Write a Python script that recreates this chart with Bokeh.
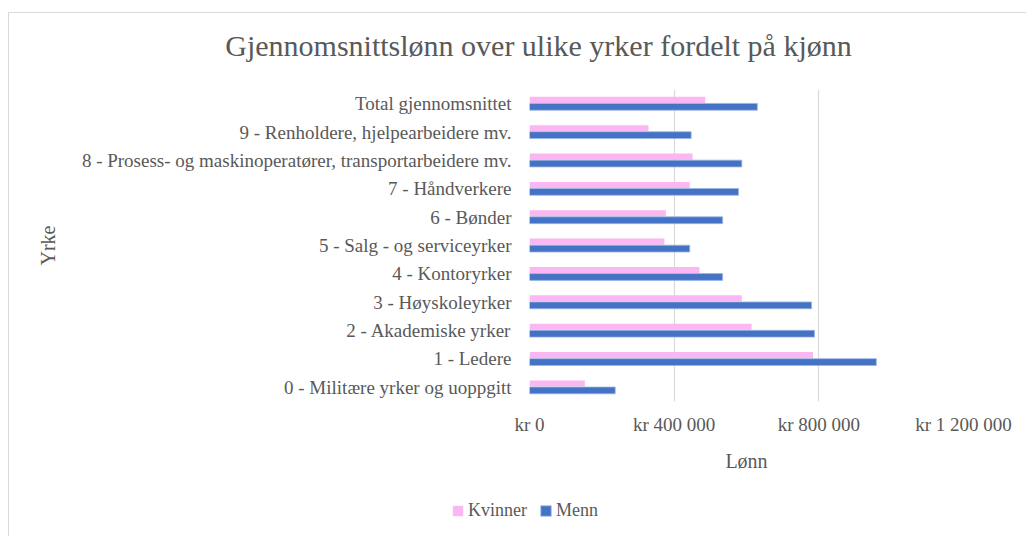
from bokeh.plotting import figure
from bokeh.models import FactorRange, FixedTicker, Legend, LegendItem, Range1d, Label
from bokeh.transform import dodge
from bokeh.embed import file_html
from bokeh.resources import INLINE

categories = [
    "0 - Militære yrker og uoppgitt",
    "1 - Ledere",
    "2 - Akademiske yrker",
    "3 - Høyskoleyrker",
    "4 - Kontoryrker",
    "5 - Salg - og serviceyrker",
    "6 - Bønder",
    "7 - Håndverkere",
    "8 - Prosess- og maskinoperatører, transportarbeidere mv.",
    "9 - Renholdere, hjelpearbeidere mv.",
    "Total gjennomsnittet",
]
kvinner = [153000, 784000, 614000, 587000, 470000, 373000, 377000, 443000, 451000, 329000, 486000]
menn = [237000, 959000, 788000, 780000, 534000, 443000, 534000, 578000, 587000, 447000, 630000]
tick_values = [0, 400000, 800000, 1200000]
tick_labels = ["kr 0", "kr 400 000", "kr 800 000", "kr 1 200 000"]
title_text = "Gjennomsnittslønn over ulike yrker fordelt på kjønn"
series_names = ["Kvinner", "Menn"]

FONT = "'Liberation Serif'"
GREY = "#595959"
PINK = "#FBB7F2"
BLUE = "#4472C4"
EDGE = "1px solid #d9d9d9"
W = 1018

# ---- title strip (own root) ----
t = figure(width=W, height=77, x_range=Range1d(0, W), y_range=Range1d(0, 77),
           output_backend="svg", toolbar_location=None,
           x_axis_location=None, y_axis_location=None, min_border=0)
t.outline_line_color = None
t.grid.visible = False
t.add_layout(Label(x=529, y=45, text=title_text, text_align="center",
                   text_baseline="alphabetic", text_font=FONT,
                   text_font_size="30px", text_color=GREY))
t.styles = {"margin-left": "8px", "margin-top": "12px", "border-top": EDGE, "border-left": EDGE}

# ---- main chart ----
p = figure(
    width=W, height=405,
    y_range=FactorRange(factors=categories, range_padding=0),
    x_range=Range1d(0, 1200000),
    output_backend="svg", toolbar_location=None,
    min_border_left=520, min_border_right=64, min_border_top=0, min_border_bottom=93,
)
p.outline_line_color = None
p.styles = {"margin-left": "8px", "border-left": EDGE}

src = dict(cat=categories, k=kvinner, m=menn)
p.hbar(y=dodge("cat", 0.135, range=p.y_range), right="k", left=0, height=0.215,
       source=src, fill_color=PINK, line_color=None)
p.hbar(y=dodge("cat", -0.11, range=p.y_range), right="m", left=0, height=0.24,
       source=src, fill_color=BLUE, line_color="#9DB5E3", line_width=0.8)

p.xaxis.ticker = FixedTicker(ticks=tick_values)
p.xaxis.major_label_overrides = {v: l for v, l in zip(tick_values, tick_labels)}
p.xaxis.axis_line_color = None
p.xaxis.major_tick_line_color = None
p.xaxis.minor_tick_line_color = None
p.xaxis.major_tick_out = 0
p.xaxis.major_tick_in = 0
p.xaxis.major_label_standoff = 12
p.xaxis.major_label_text_font = FONT
p.xaxis.major_label_text_font_size = "19px"
p.xaxis.major_label_text_color = GREY
p.xaxis.axis_label = "Lønn"
p.xaxis.axis_label_text_font = FONT
p.xaxis.axis_label_text_font_size = "20px"
p.xaxis.axis_label_text_font_style = "normal"
p.xaxis.axis_label_text_color = GREY
p.xaxis.axis_label_standoff = 12

p.yaxis.axis_line_color = None
p.yaxis.major_tick_line_color = None
p.yaxis.minor_tick_line_color = None
p.yaxis.major_tick_out = 0
p.yaxis.major_tick_in = 0
p.yaxis.major_label_standoff = 18
p.yaxis.major_label_text_font = FONT
p.yaxis.major_label_text_font_size = "19px"
p.yaxis.major_label_text_color = GREY
p.yaxis.axis_label = "Yrke"
p.yaxis.axis_label_text_font = FONT
p.yaxis.axis_label_text_font_size = "20px"
p.yaxis.axis_label_text_font_style = "normal"
p.yaxis.axis_label_text_color = GREY
p.yaxis.axis_label_standoff = 20

p.xgrid.grid_line_color = "#d9d9d9"
p.xgrid.grid_line_width = 1.2
p.ygrid.grid_line_color = None

# ---- legend strip (own root) ----
lg = figure(width=W, height=42, x_range=Range1d(0, 1), y_range=Range1d(0, 1),
            output_backend="svg", toolbar_location=None,
            x_axis_location=None, y_axis_location=None, min_border=0)
lg.outline_line_color = None
lg.grid.visible = False
lg.styles = {"margin-left": "8px", "border-left": EDGE}
# legend-only renderers: their single bar lies outside the visible range
dk = lg.hbar(y=[-5], right=[-5], left=[-6], height=1, fill_color=PINK, line_color=None)
dm = lg.hbar(y=[-5], right=[-5], left=[-6], height=1, fill_color=BLUE,
             line_color="#9DB5E3", line_width=0.8)
legend = Legend(items=[LegendItem(label=series_names[0], renderers=[dk]),
                       LegendItem(label=series_names[1], renderers=[dm])],
                orientation="horizontal", location=(442, 15),
                glyph_width=13, glyph_height=13, label_standoff=4, spacing=12,
                label_height=20, padding=0, margin=0,
                border_line_color=None, background_fill_alpha=0,
                label_text_font=FONT, label_text_font_size="18px", label_text_color=GREY)
lg.add_layout(legend, "center")

open("out.html", "w").write(file_html([t, p, lg], INLINE))
